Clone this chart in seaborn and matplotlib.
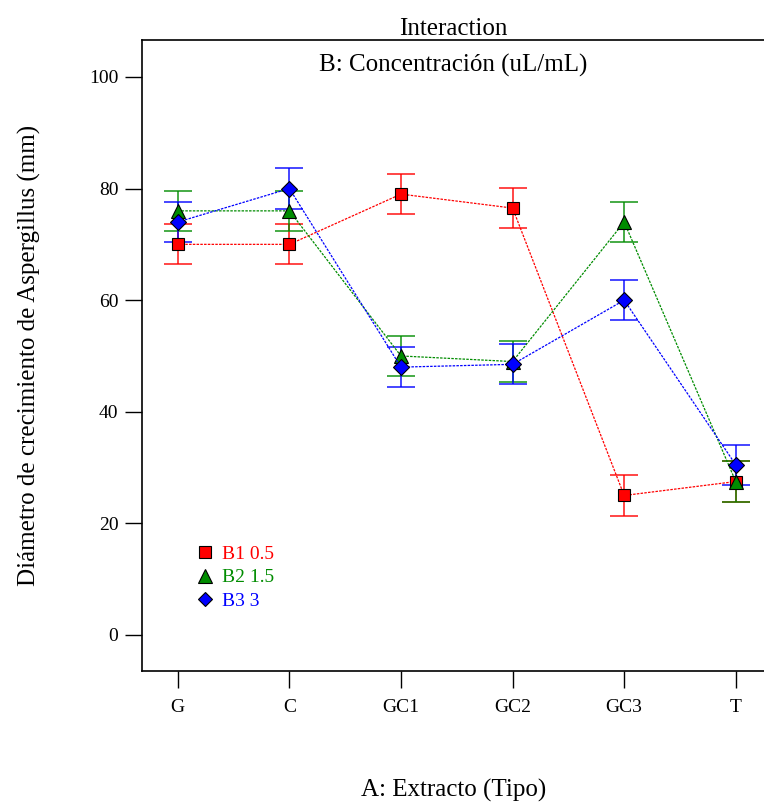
import numpy as np
import matplotlib
matplotlib.use("Agg")
import matplotlib.pyplot as plt
import pandas as pd
import seaborn as sns

# data
extracto = ["G", "C", "GC1", "GC2", "GC3", "T"]
b1 = [70.0, 70.0, 79.0, 76.5, 25.0, 27.5]
b2 = [76.0, 76.0, 50.0, 49.0, 74.0, 27.5]
b3 = [74.0, 80.0, 48.0, 48.5, 60.0, 30.5]
err = [3.6, 3.6, 3.6, 3.6, 3.6, 3.6]
niveles = ["B1 0.5", "B2 1.5", "B3 3"]

sns.set_style("ticks")
plt.rcParams['font.family'] = ['Liberation Serif', 'DejaVu Serif']
plt.rcParams.update({"text.color": "black", "axes.labelcolor": "black",
                     "xtick.color": "black", "ytick.color": "black"})

df = pd.DataFrame({
    "A": extracto * 3,
    "pos": list(range(len(extracto))) * 3,
    "y": b1 + b2 + b3,
    "B": sum([[n] * len(extracto) for n in niveles], []),
})

colores = {"B1 0.5": "#ff0000", "B2 1.5": "#008c00", "B3 3": "#0000ff"}
marcas = {"B1 0.5": "s", "B2 1.5": "^", "B3 3": "D"}
tam = {"B1 0.5": 9, "B2 1.5": 10, "B3 3": 8}
tam_leg = {"B1 0.5": 8.5, "B2 1.5": 9.5, "B3 3": 7.5}

fig = plt.figure(figsize=(7.64, 8.02), dpi=100)
ax = fig.add_axes([0.186, 0.163, 0.815, 0.787])

for nivel in niveles:
    d = df[df["B"] == nivel]
    ax.errorbar(d["pos"], d["y"], yerr=err, fmt="none", ecolor=colores[nivel],
                elinewidth=1.2, capsize=10, capthick=1.2, alpha=0.85, zorder=2)

for nivel in niveles:
    d = df[df["B"] == nivel]
    sns.lineplot(data=d, x="pos", y="y", ax=ax, color=colores[nivel], lw=0.9,
                 linestyle=(0, (2, 1)), marker=marcas[nivel], markersize=tam[nivel],
                 markerfacecolor=colores[nivel], markeredgecolor="black",
                 markeredgewidth=0.8, label=nivel, zorder=3)

ax.set_xticks(range(len(extracto)))
ax.set_xticklabels(extracto, fontsize=14)
ax.set_xlim(-0.32, 5.26)
ax.set_ylim(-6.5, 106.6)
ax.set_yticks([0, 20, 40, 60, 80, 100])
ax.tick_params(axis="y", labelsize=14, length=12, width=1, pad=5)
ax.tick_params(axis="x", length=12, width=1, pad=8)
for s in ax.spines.values():
    s.set_color("black")
    s.set_linewidth(1.2)

ax.set_xlabel("A: Extracto (Tipo)", fontsize=18, labelpad=45)
ax.set_ylabel("Diámetro de crecimiento de Aspergillus (mm)", fontsize=18, labelpad=35)
ax.set_title("Interaction", fontsize=18, pad=4)
ax.text(0.5, 0.96, "B: Concentración (uL/mL)", transform=ax.transAxes,
        ha="center", va="center", fontsize=18)

leg = ax.legend(loc="upper left", bbox_to_anchor=(0.075, 0.215), frameon=False,
                handlelength=0.7, handletextpad=0.5, labelspacing=0.3,
                borderpad=0, fontsize=14, labelcolor="linecolor", numpoints=1)
for h, nivel in zip(leg.legend_handles, niveles):
    h.set_linestyle("none")
    h.set_markersize(tam_leg[nivel])

fig.savefig("out.png", dpi=100)
